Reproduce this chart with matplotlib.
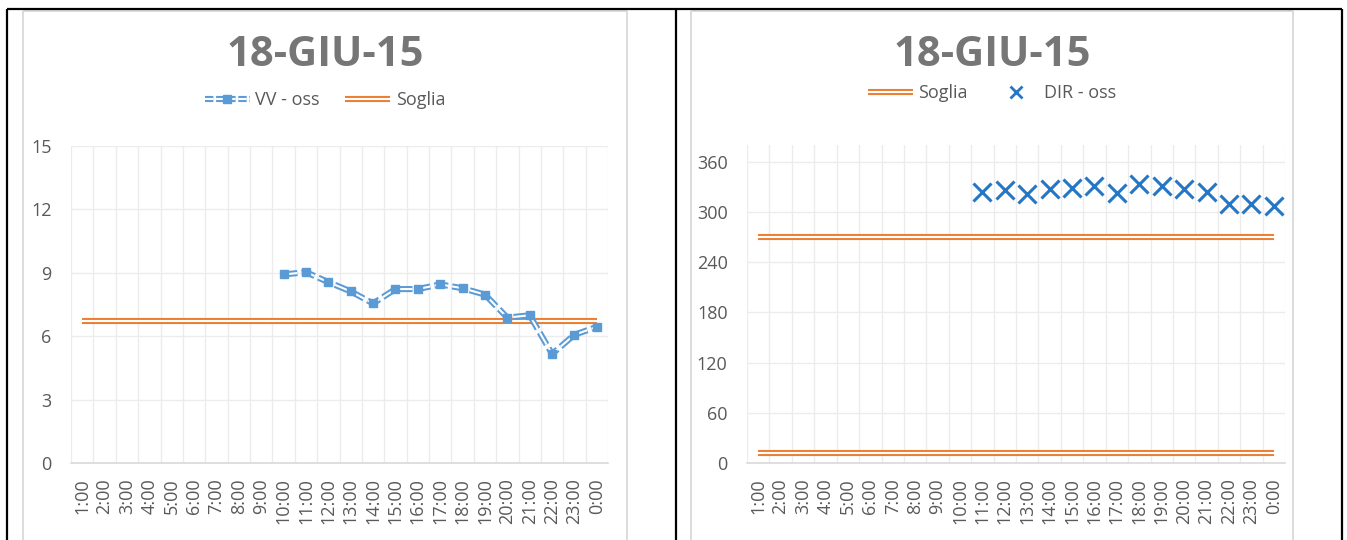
import numpy as np
import matplotlib
matplotlib.use("Agg")
import matplotlib.pyplot as plt
from matplotlib.lines import Line2D
from matplotlib.legend_handler import HandlerTuple

plt.rcParams['font.family'] = ['Open Sans', 'DejaVu Sans']
plt.rcParams['lines.scale_dashes'] = False

# ---------------- data ----------------
hours = ["1:00", "2:00", "3:00", "4:00", "5:00", "6:00", "7:00", "8:00", "9:00",
         "10:00", "11:00", "12:00", "13:00", "14:00", "15:00", "16:00", "17:00",
         "18:00", "19:00", "20:00", "21:00", "22:00", "23:00", "0:00"]
nan = np.nan
vv_oss = [nan, nan, nan, nan, nan, nan, nan, nan, nan,
          8.92, 9.03, 8.56, 8.12, 7.55, 8.23, 8.23, 8.45, 8.27, 7.97,
          6.88, 6.99, 5.16, 6.07, 6.44]
soglia_vv = 6.7
dir_oss = [nan, nan, nan, nan, nan, nan, nan, nan, nan, nan,
           324, 326, 321, 327, 329, 331, 323, 333, 331, 327, 324, 310, 310, 307]
soglia_dir_high = 270
soglia_dir_low = 12
title = "18-GIU-15"
left_yticks = [0, 3, 6, 9, 12, 15]
right_yticks = [0, 60, 120, 180, 240, 300, 360]

# ---------------- style ----------------
W, H = 1347, 540
BLUE = '#5B9BD5'
ORANGE = '#ED7D31'
XBLUE = '#2577C6'
TICK = '#595959'
GRID = '#ECECEC'
BORDER = '#D9D9D9'
TITLEC = '#767676'
DASH = (0, (10, 3))

fig = plt.figure(figsize=(W / 100, H / 100), dpi=100)


def fx(x):
    return x / W


def fy(y):
    return 1 - y / H


def make_axes(x0, x1, y0, y1):
    return fig.add_axes([fx(x0), fy(y1), fx(x1) - fx(x0), fy(y0) - fy(y1)])


x = np.arange(len(hours))


def style_axes(ax, ylim, yticks):
    ax.set_xlim(-0.5, len(hours) - 0.5)
    ax.set_ylim(*ylim)
    ax.set_yticks(yticks)
    ax.set_yticklabels([str(t) for t in yticks])
    ax.set_xticks(x)
    ax.set_xticklabels(hours, rotation=90, va='top', ha='center')
    for s in ['top', 'right', 'left']:
        ax.spines[s].set_visible(False)
    ax.spines['bottom'].set_color(BORDER)
    ax.spines['bottom'].set_linewidth(1.2)
    ax.tick_params(axis='both', length=0, colors=TICK, labelsize=13)
    ax.tick_params(axis='y', pad=14)
    ax.tick_params(axis='x', pad=11)
    for t in yticks:
        ax.axhline(t, color=GRID, lw=1.0, zorder=0)
    for k in range(len(hours) + 1):
        ax.axvline(k - 0.5, color=GRID, lw=1.0, zorder=0)
    ax.set_facecolor('white')


def double_hline(ax, y, color):
    xs = [x[0], x[-1]]
    ax.plot(xs, [y, y], color=color, lw=4.4, solid_capstyle='butt', zorder=3)
    ax.plot(xs, [y, y], color='white', lw=1.5, solid_capstyle='butt', zorder=4)


# ---------------- left chart ----------------
axL = make_axes(71, 608, 146, 463)
style_axes(axL, (0, 15), left_yticks)
double_hline(axL, soglia_vv, ORANGE)
axL.plot(x, vv_oss, color=BLUE, lw=4.4, linestyle=DASH, zorder=5)
axL.plot(x, vv_oss, color='white', lw=1.5, linestyle=DASH, zorder=6)
axL.plot(x, vv_oss, linestyle='none', marker='s', markersize=5.2,
         markerfacecolor=BLUE, markeredgecolor=BLUE, zorder=7)

h_vv = (Line2D([], [], color=BLUE, lw=4.4, linestyle=(0, (6, 2))),
        Line2D([], [], color='white', lw=1.5, linestyle=(0, (6, 2))),
        Line2D([], [], linestyle='none', marker='s', markersize=5.2,
               markerfacecolor=BLUE, markeredgecolor=BLUE))
h_sog = (Line2D([], [], color=ORANGE, lw=4.4, solid_capstyle='butt'),
         Line2D([], [], color='white', lw=1.5, solid_capstyle='butt'))
h_dir = Line2D([], [], linestyle='none', marker='x', markersize=9,
               markeredgewidth=2, color=XBLUE)

tuple_handler = {tuple: HandlerTuple(ndivide=1, pad=0)}

fig.text(fx(325), fy(56), title, ha='center', va='center', fontsize=30,
         fontweight='bold', color=TITLEC)
fig.legend([h_vv, h_sog], ["VV - oss", "Soglia"], loc='center',
           bbox_to_anchor=(fx(325), fy(100)), ncol=2, frameon=False,
           fontsize=13, labelcolor=TICK, handlelength=2.5, handletextpad=0.3,
           columnspacing=1.4, numpoints=1, handler_map=tuple_handler)

# ---------------- right chart ----------------
axR = make_axes(747, 1285, 145, 463)
style_axes(axR, (0, 380), right_yticks)
double_hline(axR, soglia_dir_high, ORANGE)
double_hline(axR, soglia_dir_low, ORANGE)
axR.plot(x, dir_oss, linestyle='none', marker='x', markersize=13,
         markeredgewidth=2.2, color=XBLUE, zorder=7)

fig.text(fx(992), fy(56), title, ha='center', va='center', fontsize=30,
         fontweight='bold', color=TITLEC)
fig.legend([h_sog, h_dir], ["Soglia", "DIR - oss"], loc='center',
           bbox_to_anchor=(fx(992), fy(93)), ncol=2, frameon=False,
           fontsize=13, labelcolor=TICK, handlelength=2.5, handletextpad=0.3,
           columnspacing=1.4, numpoints=1, handler_map=tuple_handler)

# ---------------- chart-area borders and table lines ----------------
def fig_line(xs, ys, color, lw):
    fig.add_artist(Line2D([fx(v) for v in xs], [fy(v) for v in ys],
                          color=color, lw=lw, transform=fig.transFigure,
                          solid_capstyle='butt'))


for (a, b) in [(23, 627), (691, 1293)]:
    fig_line([a, a], [11, 545], BORDER, 1.3)
    fig_line([b, b], [11, 545], BORDER, 1.3)
    fig_line([a, b], [11, 11], BORDER, 1.3)

fig_line([7, 1342], [9, 9], 'black', 1.6)
for xv in [7, 676, 1342]:
    fig_line([xv, xv], [9, 545], 'black', 1.6)

fig.savefig("out.png", dpi=100, facecolor='white')
